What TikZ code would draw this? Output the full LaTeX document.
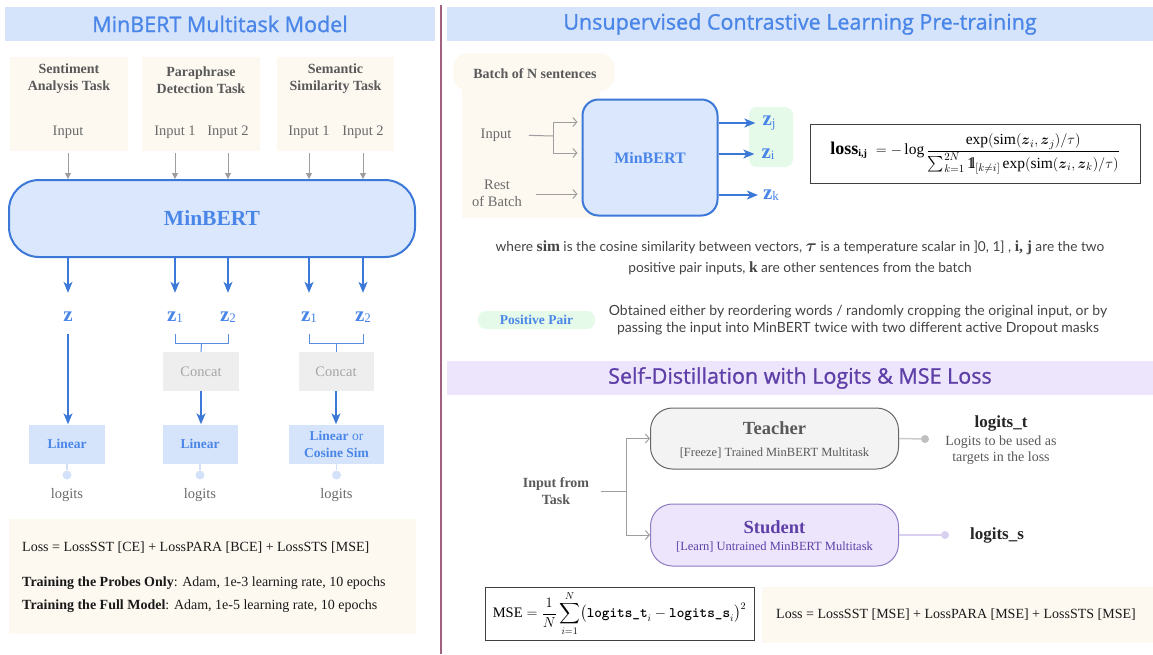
\documentclass[tikz,border=0pt]{standalone}
\usepackage{fontspec}
\usepackage{amsmath, amssymb}
\setmainfont{Liberation Serif}
\newfontfamily\headfont{Open Sans}[FakeBold = 1.1]
\newfontfamily\notefont{Lato}
\usetikzlibrary{arrows.meta, calc}

\definecolor{gblue}{HTML}{4A86E8}
\definecolor{barblue}{HTML}{D6E4FB}
\definecolor{bertfill}{HTML}{DAE7FC}
\definecolor{blueedge}{HTML}{3C78D8}
\definecolor{cream}{HTML}{FDF9F1}
\definecolor{arrgray}{HTML}{9E9E9E}
\definecolor{txtgray}{HTML}{595959}
\definecolor{concatfill}{HTML}{EEEEEE}
\definecolor{concattxt}{HTML}{A6A6A6}
\definecolor{pairgreen}{HTML}{E6FAEA}
\definecolor{lavfill}{HTML}{ECE5FB}
\definecolor{purpletxt}{HTML}{5E3FA8}
\definecolor{purpleedge}{HTML}{8E7CC3}
\definecolor{teachfill}{HTML}{F3F3F3}
\definecolor{teachedge}{HTML}{666666}
\definecolor{divider}{HTML}{A0607E}
\definecolor{dotblue}{HTML}{D3E2FA}
\definecolor{notegray}{HTML}{444444}

\newcommand{\zsub}[1]{\raisebox{-1.5pt}{\mdseries\fontsize{13}{13}\selectfont #1}}
\newcommand{\indicone}{\mathrm{1\kern-0.25em l}}

\tikzset{
	titlebar/.style   = {fill = barblue, text = gblue, inner sep = 0pt, minimum height = 34pt, font = \headfont\fontsize{21.5}{24}\selectfont},
	taskbox/.style    = {fill = cream, inner sep = 0pt, minimum height = 94pt},
	tasktitle/.style  = {text = txtgray, align = center, font = \bfseries\fontsize{14}{17}\selectfont},
	inputlbl/.style   = {text = txtgray!90, align = center, font = \fontsize{14.5}{17}\selectfont},
	bertbox/.style    = {draw = blueedge, line width = 2pt, fill = bertfill, text = gblue, font = \bfseries\fontsize{21.5}{24}\selectfont},
	zlbl/.style       = {text = gblue, inner sep = 0pt, font = \bfseries\fontsize{21}{22}\selectfont},
	concatbox/.style  = {fill = concatfill, text = concattxt, minimum height = 39pt, inner sep = 0pt, font = \fontsize{14.5}{17}\selectfont},
	linbox/.style     = {fill = barblue, text = gblue, minimum height = 39pt, inner sep = 0pt, align = center, font = \bfseries\fontsize{13.5}{17}\selectfont},
	logitdot/.style   = {circle, fill = dotblue, inner sep = 0pt, minimum size = 9pt},
	creambox/.style   = {fill = cream, inner sep = 0pt},
	notetxt/.style    = {text = black!90, inner sep = 0pt, anchor = west, font = \fontsize{14}{17}\selectfont},
	grayarrow/.style  = {draw = arrgray, line width = 1pt, -{Triangle[length = 6pt, width = 6pt]}},
	barbarrow/.style  = {draw = arrgray, line width = 1pt, -{Straight Barb[length = 4pt, width = 9pt]}},
	grayline/.style   = {draw = arrgray, line width = 1pt},
	bluearrow/.style  = {draw = blueedge, line width = 1.3pt, -{Stealth[length = 11pt, width = 9pt, inset = 3pt]}},
	blueline/.style   = {draw = blueedge!85, line width = 1pt},
	formulabox/.style = {draw = black!75, line width = 0.8pt, inner sep = 0pt},
	explain/.style    = {text = notegray, align = center, font = \notefont\fontsize{13.7}{21}\selectfont},
	pairpill/.style   = {fill = pairgreen, rounded corners = 8pt, text = gblue, inner sep = 0pt, minimum width = 117pt, minimum height = 18pt, font = \bfseries\fontsize{13.5}{15}\selectfont},
	rolebox/.style    = {rounded corners = 22pt, line width = 1pt, minimum width = 248pt, inner sep = 0pt},
	roletitle/.style  = {font = \bfseries\fontsize{18.5}{20}\selectfont},
	rolesub/.style    = {font = \fontsize{12.5}{15}\selectfont},
	outname/.style    = {text = black!85, font = \bfseries\fontsize{17}{20}\selectfont},
	outdesc/.style    = {text = txtgray, align = center, font = \fontsize{14}{16}\selectfont},
}

\begin{document}
\begin{tikzpicture}[x = 1pt, y = -1pt]

	\useasboundingbox (0, 0) rectangle (1153, 654);
	\fill[white] (0, 0) rectangle (1153, 654);

	%%% LEFT PANEL %%%

	\node[titlebar, minimum width = 430pt] (ltitle) at (220, 24) {MinBERT Multitask Model};

	\node[taskbox, minimum width = 118pt] (sst)  at (69, 104)    {};
	\node[taskbox, minimum width = 118pt] (para) at (201, 104)   {};
	\node[taskbox, minimum width = 117pt] (sts)  at (335.5, 104) {};

	\node[tasktitle] (sstname)  at (69, 79)    {Sentiment\\Analysis Task};
	\node[tasktitle] (paraname) at (201, 80)   {Paraphrase\\Detection Task};
	\node[tasktitle] (stsname)  at (335.5, 79) {Semantic\\Similarity Task};

	\node[inputlbl] (sstin)   at (68, 132)  {Input};
	\node[inputlbl] (parain1) at (175, 132) {Input 1};
	\node[inputlbl] (parain2) at (228, 132) {Input 2};
	\node[inputlbl] (stsin1)  at (309, 132) {Input 1};
	\node[inputlbl] (stsin2)  at (363, 132) {Input 2};

	\node[bertbox, minimum width = 406pt, minimum height = 77pt, rounded corners = 30pt] (bert) at (212, 218.5) {MinBERT};

	\foreach \n in {sstin, parain1, parain2, stsin1, stsin2}
		\draw[grayarrow] (\n |- sst.south) ++(0, 2) -- (\n |- bert.north);

	\node[zlbl, minimum height = 34pt] (z0)  at (68, 317)  {z};
	\node[zlbl, minimum height = 34pt] (z1)  at (175, 317) {z\zsub{1}};
	\node[zlbl, minimum height = 34pt] (z2)  at (228, 317) {z\zsub{2}};
	\node[zlbl, minimum height = 34pt] (z3)  at (309, 317) {z\zsub{1}};
	\node[zlbl, minimum height = 34pt] (z4)  at (363, 317) {z\zsub{2}};

	\foreach \n/\z in {sstin/z0, parain1/z1, parain2/z2, stsin1/z3, stsin2/z4}
		\draw[bluearrow, shorten >= 7pt] (\n |- bert.south) -- (\n |- z0.north);

	\node[concatbox, minimum width = 76pt] (concat1) at (201, 371.5)   {Concat};
	\node[concatbox, minimum width = 75pt] (concat2) at (336, 371.5) {Concat};

	\node[linbox, minimum width = 76pt] (lin1) at (67, 444)    {Linear};
	\node[linbox, minimum width = 75pt] (lin2) at (200, 444)   {Linear};
	\node[linbox, minimum width = 95pt] (lin3) at (336.5, 444) {Linear {\mdseries or}\\Cosine Sim};

	\draw[blueline] (z1.south) -- ++(0, 9) -| (z2.south);
	\draw[blueline] (z3.south) -- ++(0, 9) -| (z4.south);
	\draw[blueline] ($(z1.south)!0.5!(z2.south) + (0, 9)$) -- (concat1.north);
	\draw[blueline] ($(z3.south)!0.5!(z4.south) + (0, 9)$) -- (concat2.north);

	\draw[bluearrow] (z0.south) -- (z0.south |- lin1.north);
	\draw[bluearrow] (concat1.south) -- (concat1.south |- lin2.north);
	\draw[bluearrow] (concat2.south) -- (concat2.south |- lin3.north);

	\foreach \l/\d/\x in {lin1/dot1/67, lin2/dot2/200, lin3/dot3/336.5} {
		\node[logitdot] (\d) at (\x, 475) {};
		\draw[dotblue, line width = 1.2pt] (\l.south) -- (\d);
		\node[inputlbl] (\d out) at (\x, 495) {logits};
	}

	\node[creambox, minimum width = 407pt, minimum height = 115pt] (lnotes) at (212.5, 576.5) {};
	\node[notetxt] (lossl)  at (22, 548) {Loss = LossSST [CE] + LossPARA [BCE] + LossSTS [MSE]};
	\node[notetxt] (probes) at (22, 583) {\textbf{Training the Probes Only}: Adam, 1e-3 learning rate, 10 epochs};
	\node[notetxt] (full)   at (22, 606) {\textbf{Training the Full Model}: Adam, 1e-5 learning rate, 10 epochs};

	\draw[divider, line width = 1.5pt] (441, 5) -- (441, 654); % separador

	%%% RIGHT PANEL, CONTRASTIVE %%%

	\node[titlebar, minimum width = 706pt] (rtitle) at (800, 24) {Unsupervised Contrastive Learning Pre-training};

	\fill[cream] (462, 80) rectangle (600, 218);
	\fill[cream, rounded corners = 16pt] (453, 53) rectangle (615, 91);
	\node[tasktitle] (batch) at (535, 74) {Batch of N sentences};

	\node[bertbox, minimum width = 135pt, minimum height = 116pt, rounded corners = 16pt, font = \bfseries\fontsize{16}{18}\selectfont] (bert2) at (650, 157.5) {MinBERT};

	\node[inputlbl] (cin)   at (496, 135) {Input};
	\node[inputlbl] (crest) at (497, 193) {Rest\\of Batch};
	\coordinate (cfork) at (553, 136);

	\draw[grayline, shorten <= 14pt] (cin.east) -- (cfork);
	\draw[barbarrow, shorten >= 4pt] (cfork) |- (bert2.west |- 0, 122);
	\draw[barbarrow, shorten >= 4pt] (cfork) |- (bert2.west |- 0, 153);
	\draw[barbarrow, shorten >= 4pt, shorten <= 11pt] (crest.east |- 0, 194) -- (bert2.west |- 0, 194);

	\fill[pairgreen, rounded corners = 8pt] (749, 107) rectangle (793, 167);
	\node[zlbl] (zj) at (769, 123) {z\zsub{j}};
	\node[zlbl] (zi) at (768, 154) {z\zsub{i}};
	\node[zlbl] (zk) at (771, 195) {z\zsub{k}};

	\draw[bluearrow, shorten >= 7pt] (bert2.east |- zj) -- (zj.west);
	\draw[bluearrow, shorten >= 7pt] (bert2.east |- zi) -- (zi.west);
	\draw[bluearrow, shorten >= 5pt] (bert2.east |- zk) -- (zk.west);

	\node[formulabox, minimum width = 330pt, minimum height = 59pt, font = \fontsize{15.5}{17}\selectfont] (lossbox) at (975, 154)
		{{\bfseries\fontsize{18}{18}\selectfont loss}{\bfseries\fontsize{10}{10}\selectfont\raisebox{-2pt}{i,j}}\hspace{9pt}$\displaystyle = -\log \frac{\exp(\mathrm{sim}(\boldsymbol{z}_i, \boldsymbol{z}_j)/\tau)}{\sum_{k=1}^{2N} \indicone_{[k \neq i]} \exp(\mathrm{sim}(\boldsymbol{z}_i, \boldsymbol{z}_k)/\tau)}$};

	\node[explain] (where) at (800, 258)
		{where {\rmfamily\bfseries\fontsize{15.5}{15}\selectfont sim} is the cosine similarity between vectors, {\boldmath\fontsize{16.5}{16}\selectfont$\tau$} is a temperature scalar in ]0, 1] , {\rmfamily\bfseries\fontsize{15.5}{15}\selectfont i, j} are the two\\
		positive pair inputs, {\rmfamily\bfseries\fontsize{15.5}{15}\selectfont k} are other sentences from the batch};

	\node[pairpill] (ppair) at (536.5, 320) {Positive Pair};
	\node[explain, font = \notefont\fontsize{14}{17}\selectfont] (pdesc) at (858, 320)
		{Obtained either by reordering words / randomly cropping the original input, or by\\
		passing the input into MinBERT twice with two different active Dropout masks};

	%%% RIGHT PANEL, DISTILLATION %%%

	\node[titlebar, fill = lavfill, text = purpletxt, minimum width = 706pt] (stitle) at (800, 378) {Self-Distillation with Logits \& MSE Loss};

	\node[rolebox, draw = teachedge, fill = teachfill, minimum height = 61pt] (teacher) at (774.5, 438.5) {};
	\node[roletitle, text = txtgray] (tname) at (774.5, 428) {Teacher};
	\node[rolesub, text = txtgray]   (tsub)  at (774.5, 453) {[Freeze] Trained MinBERT Multitask};

	\node[rolebox, draw = purpleedge, fill = lavfill, minimum height = 62pt] (student) at (774.5, 535) {};
	\node[roletitle, text = purpletxt] (sname) at (774.5, 527) {Student};
	\node[rolesub, text = purpletxt]   (ssub)  at (774.5, 547) {[Learn] Untrained MinBERT Multitask};

	\node[tasktitle] (itask) at (556, 491) {Input from\\Task};
	\coordinate (sfork) at (626, 491);
	\draw[grayline, shorten <= 8pt] (itask.east) -- (sfork);
	\draw[barbarrow] (sfork) |- (teacher.west);
	\draw[barbarrow] (sfork) |- (student.west);

	\node[circle, fill = black!25, inner sep = 0pt, minimum size = 8pt] (tdot) at (925, 439) {};
	\draw[black!20, line width = 1.5pt] (teacher.east) -- (tdot);
	\node[outname] (logt) at (1001, 423) {logits\_t};
	\node[outdesc] (logtdesc) at (1001, 450) {Logits to be used as\\targets in the loss};

	\node[circle, fill = lavfill!80!purpleedge, inner sep = 0pt, minimum size = 8pt] (sdot) at (945, 535) {};
	\draw[lavfill!80!purpleedge, line width = 1.5pt] (student.east) -- (sdot);
	\node[outname] (logs) at (997, 535) {logits\_s};

	\node[formulabox, minimum width = 269pt, minimum height = 53pt, font = \fontsize{14.5}{16}\selectfont] (msebox) at (619.5, 613.5)
		{$\displaystyle \text{MSE} = \frac{1}{N} \sum_{i=1}^{N} \bigl(\texttt{\bfseries logits\_t}_i - \texttt{\bfseries logits\_s}_i\bigr)^2$};

	\node[creambox, minimum width = 391pt, minimum height = 56pt] (rnotes) at (957.5, 615) {};
	\node[notetxt] (rloss) at (776, 615) {Loss = LossSST [MSE] + LossPARA [MSE] + LossSTS [MSE]};

\end{tikzpicture}
\end{document}
